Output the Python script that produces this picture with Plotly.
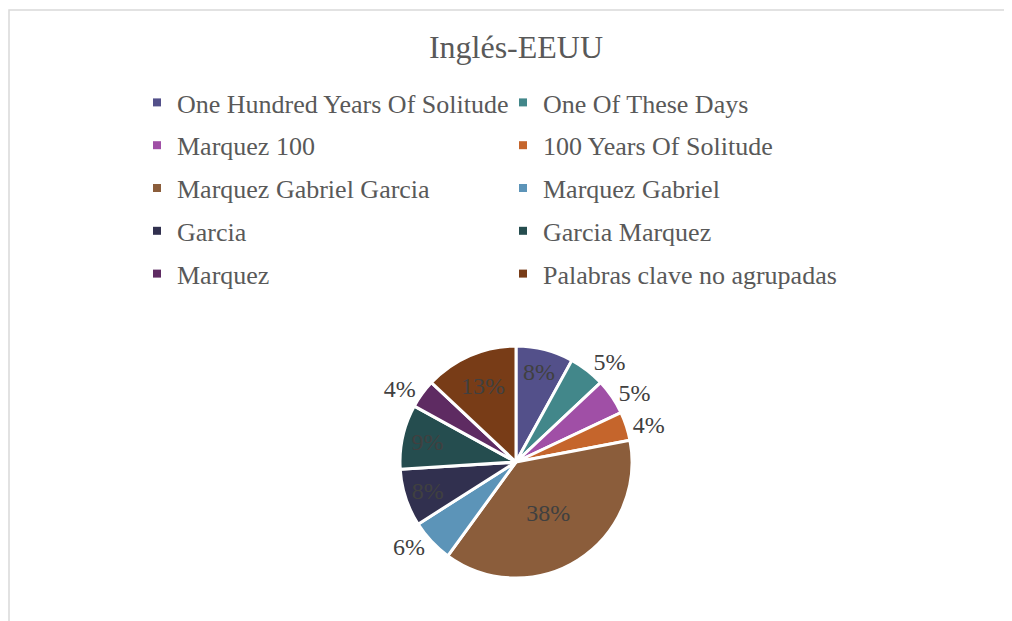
import plotly.graph_objects as go

categories = [
    "One Hundred Years Of Solitude", "One Of These Days", "Marquez 100",
    "100 Years Of Solitude", "Marquez Gabriel Garcia", "Marquez Gabriel",
    "Garcia", "Garcia Marquez", "Marquez", "Palabras clave no agrupadas",
]
values = [8, 5, 5, 4, 38, 6, 8, 9, 4, 13]
colors = ["#53508A", "#42878A", "#A04FA6", "#C5652C", "#8B5D3B",
          "#5C94B8", "#31304F", "#254D4F", "#5E2B62", "#783C17"]
text_positions = ["inside", "outside", "outside", "outside", "inside",
                  "outside", "inside", "inside", "outside", "inside"]

# page body has an 8px default margin; work in page pixels and convert
OFF = 8
W, H = 1012 - OFF, 621 - OFF
FONT = "Liberation Serif"


def px(x):
    return (x - OFF) / W


def py(y):
    return 1 - (y - OFF) / H


fig = go.Figure()

cx, cy, r = 516, 462, 116
fig.add_trace(go.Pie(
    labels=categories, values=values, sort=False, direction="clockwise",
    rotation=0, showlegend=False,
    marker=dict(colors=colors, line=dict(color="white", width=3)),
    texttemplate="%{percent:.0%}", textposition=text_positions,
    insidetextorientation="horizontal",
    textfont=dict(family=FONT, size=24, color="#404040"),
    domain=dict(x=[px(cx - r), px(cx + r)], y=[py(cy + r), py(cy - r)]),
    hoverinfo="label+percent",
))

# legend entries (two columns: left = even indices, right = odd indices)
for i, (name, col) in enumerate(zip(categories, colors)):
    fig.add_trace(go.Scatter(
        x=[None], y=[None], mode="markers", name=name,
        marker=dict(symbol="square", size=8, color=col),
        legend="legend" if i % 2 == 0 else "legend2",
        legendgroup=f"g{i}", showlegend=True,
    ))

leg_common = dict(
    orientation="v", font=dict(family=FONT, size=26, color="#595959"),
    bgcolor="rgba(0,0,0,0)", borderwidth=0, tracegroupgap=6,
    xanchor="left", yanchor="top", itemsizing="trace",
)
fig.update_layout(
    width=W, height=H,
    margin=dict(l=0, r=0, t=0, b=0),
    paper_bgcolor="white", plot_bgcolor="white",
    title=dict(text="Inglés-EEUU", x=px(516), xanchor="center",
               y=py(47), yanchor="middle",
               font=dict(family=FONT, size=32, color="#595959")),
    xaxis=dict(visible=False), yaxis=dict(visible=False),
    legend=dict(x=px(137), y=py(79), **leg_common),
    legend2=dict(x=px(503), y=py(79), **leg_common),
    shapes=[dict(type="rect", xref="paper", yref="paper",
                 x0=1 / W, x1=1.05, y0=-0.05, y1=py(10),
                 line=dict(color="#D9D9D9", width=1.5),
                 fillcolor="rgba(0,0,0,0)", layer="below")],
)

fig.write_html("out.html")
